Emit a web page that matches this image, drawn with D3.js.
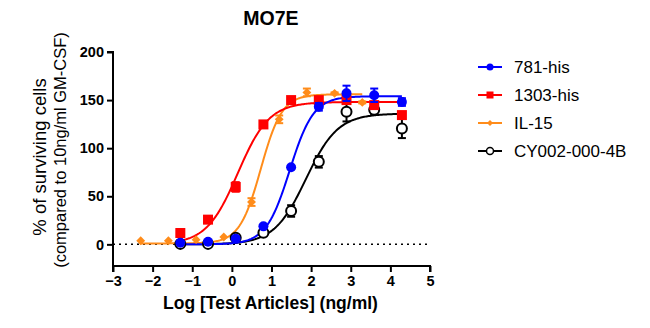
<!DOCTYPE html>
<html><head><meta charset="utf-8">
<script src="https://cdn.jsdelivr.net/npm/d3@7"></script>
<style>body{margin:0;background:#fff}svg{display:block}text{font-family:"Liberation Sans",Arial,sans-serif}</style>
</head><body><svg id="c" width="650" height="328"></svg>
<script>
const seriesNames = ["781-his", "1303-his", "IL-15", "CY002-000-4B"];
const seriesColors = ["#0000ff", "#ff0000", "#ff8c1a", "#000000"];
const seriesShapes = ["circle", "square", "diamond", "open"];
const xTicks = [-3, -2, -1, 0, 1, 2, 3, 4, 5];
const yTicks = [0, 50, 100, 150, 200];

const logDoseHis = [-1.301, -0.602, 0.097, 0.796, 1.495, 2.194, 2.893, 3.592, 4.291];
const logDoseIL15 = [-2.301, -1.602, -0.903, -0.204, 0.495, 1.194, 1.893, 2.592, 3.291];

const y781 = [1.7, 2.8, 5.9, 18.7, 80.2, 143, 157, 155, 148];
const e781 = [0, 0, 0, 1, 1, 4, 8, 7, 4];
const y1303 = [11.8, 25.7, 59.7, 124.7, 150, 150, 150, 144.8, 134.4];
const e1303 = [0, 0, 5, 1, 1, 1, 1, 1, 1];
const yIL15 = [3.8, 3.8, 4.9, 7.6, 44, 130, 158, 157, 147.6];
const eIL15 = [0, 0, 0, 0, 4, 4, 4, 1, 1];
const yCY = [0.5, 0.5, 7, 12, 34.7, 85.8, 137.8, 140, 120.5];
const eCY = [0, 0, 0, 2, 6, 6, 10, 5, 10];

// fitted 4PL parameters [bottom, top, logEC50, hill]
const fit781 = [0, 154, 1.46, 1.45];
const fit1303 = [0, 148, 0.15, 1.1];
const fitIL15 = [1, 156, 0.73, 1.62];
const fitCY = [0, 136, 1.87, 1.08];

const series = [
  {name: seriesNames[0], color: seriesColors[0], shape: seriesShapes[0], x: logDoseHis, y: y781, e: e781, fit: fit781},
  {name: seriesNames[1], color: seriesColors[1], shape: seriesShapes[1], x: logDoseHis, y: y1303, e: e1303, fit: fit1303},
  {name: seriesNames[2], color: seriesColors[2], shape: seriesShapes[2], x: logDoseIL15, y: yIL15, e: eIL15, fit: fitIL15},
  {name: seriesNames[3], color: seriesColors[3], shape: seriesShapes[3], x: logDoseHis, y: yCY, e: eCY, fit: fitCY}
];

const svg = d3.select("#c");
const x = d3.scaleLinear().domain([-3, 5]).range([113, 430]);
const y = d3.scaleLinear().domain([-22.5, 200]).range([266, 52]);

// title
svg.append("text").attr("x", 271).attr("y", 25).attr("text-anchor", "middle")
  .attr("font-size", 19.5).attr("font-weight", "bold").text("MO7E");

// dotted zero line
svg.append("line").attr("x1", x(-3)).attr("x2", x(5)).attr("y1", y(0)).attr("y2", y(0))
  .attr("stroke", "#000").attr("stroke-width", 1.5).attr("stroke-dasharray", "2,4");

// axes
const yAxis = svg.append("g").attr("transform", `translate(${x(-3)},0)`)
  .call(d3.axisLeft(y).tickValues(yTicks).tickSize(6).tickPadding(3));
const xAxis = svg.append("g").attr("transform", `translate(0,${y(-22.5)})`)
  .call(d3.axisBottom(x).tickValues(xTicks).tickSize(6).tickPadding(4));
[yAxis, xAxis].forEach(g => {
  g.select(".domain").attr("stroke", "#000").attr("stroke-width", 2);
  g.selectAll(".tick line").attr("stroke", "#000").attr("stroke-width", 2);
  g.selectAll(".tick text").attr("font-size", 14.5).attr("font-weight", "bold")
    .attr("fill", "#000").style("font-family", '"Liberation Sans",Arial,sans-serif');
});
yAxis.select(".domain").attr("d", `M-6,${y(200)}H0V${y(-22.5)}`);
xAxis.select(".domain").attr("d", `M${x(-3)},6V0H${x(5)}V6`);

// axis labels
svg.append("text").attr("transform", "translate(270.5,309)").attr("text-anchor", "middle")
  .attr("font-size", 17.5).attr("font-weight", "bold").text("Log [Test Articles] (ng/ml)");
svg.append("text").attr("transform", "translate(46,157) rotate(-90)").attr("text-anchor", "middle")
  .attr("font-size", 18.5).text("% of surviving cells");
svg.append("text").attr("transform", "translate(66,150) rotate(-90)").attr("text-anchor", "middle")
  .attr("font-size", 16.5).text("(compared to 10ng/ml GM-CSF)");

function fourPL(p, t) { return p[0] + (p[1] - p[0]) / (1 + Math.pow(10, (p[2] - t) * p[3])); }
const line = d3.line().x(d => x(d[0])).y(d => y(d[1]));

// curves
const drawOrder = [3, 2, 1, 0];
drawOrder.forEach(i => {
  const s = series[i];
  const lo = d3.min(s.x), hi = d3.max(s.x);
  const pts = d3.range(0, 201).map(k => { const t = lo + (hi - lo) * k / 200; return [t, fourPL(s.fit, t)]; });
  svg.append("path").attr("d", line(pts)).attr("fill", "none").attr("stroke", s.color).attr("stroke-width", 2);
});

function marker(g, shape, color, cx, cy) {
  if (shape === "circle") g.append("circle").attr("cx", cx).attr("cy", cy).attr("r", 5).attr("fill", color);
  else if (shape === "open") g.append("circle").attr("cx", cx).attr("cy", cy).attr("r", 5).attr("fill", "#fff").attr("stroke", color).attr("stroke-width", 2);
  else if (shape === "square") g.append("rect").attr("x", cx - 5).attr("y", cy - 5).attr("width", 10).attr("height", 10).attr("fill", color);
  else if (shape === "diamond") g.append("path").attr("d", d3.symbol(d3.symbolDiamond2, 50)()).attr("transform", `translate(${cx},${cy})`).attr("fill", color);
}

// error bars + points
drawOrder.forEach(i => {
  const s = series[i];
  const g = svg.append("g");
  s.x.forEach((xv, j) => {
    const ev = s.e[j];
    if (ev > 0) {
      const cx = x(xv), t = y(s.y[j] + ev), b = y(s.y[j] - ev);
      g.append("line").attr("x1", cx).attr("x2", cx).attr("y1", t).attr("y2", b).attr("stroke", s.color).attr("stroke-width", 2);
      g.append("line").attr("x1", cx - 4).attr("x2", cx + 4).attr("y1", t).attr("y2", t).attr("stroke", s.color).attr("stroke-width", 2);
      g.append("line").attr("x1", cx - 4).attr("x2", cx + 4).attr("y1", b).attr("y2", b).attr("stroke", s.color).attr("stroke-width", 2);
    }
    marker(g, s.shape, s.color, x(xv), y(s.y[j]));
  });
});

// legend
series.forEach((s, i) => {
  const ly = 67 + i * 28;
  const g = svg.append("g");
  g.append("line").attr("x1", 478).attr("x2", 502).attr("y1", ly).attr("y2", ly).attr("stroke", s.color).attr("stroke-width", 2);
  if (s.shape === "circle") g.append("circle").attr("cx", 490).attr("cy", ly).attr("r", 3.5).attr("fill", s.color);
  else if (s.shape === "open") g.append("circle").attr("cx", 490).attr("cy", ly).attr("r", 3.5).attr("fill", "#fff").attr("stroke", s.color).attr("stroke-width", 1.5);
  else if (s.shape === "square") g.append("rect").attr("x", 486.5).attr("y", ly - 3.5).attr("width", 7).attr("height", 7).attr("fill", s.color);
  else g.append("path").attr("d", d3.symbol(d3.symbolDiamond2, 24)()).attr("transform", `translate(490,${ly})`).attr("fill", s.color);
  g.append("text").attr("x", 514).attr("y", ly + 6).attr("font-size", 17).text(s.name);
});
</script></body></html>
